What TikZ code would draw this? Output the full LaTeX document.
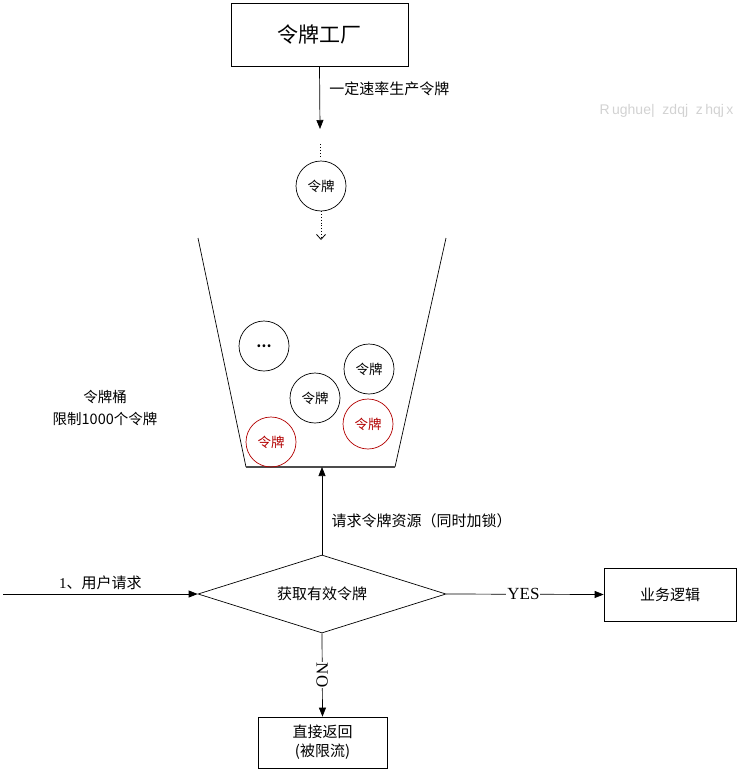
\documentclass[tikz,border=0pt]{standalone}
\usepackage{fontspec}
\setmainfont{Liberation Serif}
\newfontfamily\cjk{Noto Sans CJK SC}
\usetikzlibrary{shapes.geometric,arrows.meta,positioning}

\begin{document}
\begin{tikzpicture}[x=1pt,y=-1pt,line width=0.7pt,
    cjktext/.style={font=\cjk\fontsize{15}{19}\selectfont},
    tokenball/.style={circle,draw,minimum size=50pt,inner sep=0pt,font=\cjk\fontsize{13.5}{16}\selectfont},
    hotball/.style={tokenball,draw=red!70!black,text=red!70!black},
    flowbox/.style={rectangle,draw,inner sep=0pt,cjktext},
    arr/.style={-{Triangle[length=9pt,width=7pt]}}]
    \useasboundingbox (0,0) rectangle (742,771);

    % Token factory
    \node[flowbox,minimum width=177pt,minimum height=63pt,font=\cjk\fontsize{21}{24}\selectfont] (factory) at (319.5,34.5) {令牌工厂};
    \coordinate (prodend) at (320,129);
    \draw[arr] (factory.south) -- (prodend) node[cjktext,right,pos=0.36,xshift=6pt] {一定速率生产令牌};

    % Falling token
    \coordinate (dotstop) at (320,144);
    \coordinate (dotsbot) at (320,158);
    \draw[dotted,line width=1pt] (dotstop) -- (dotsbot);
    \node[tokenball] (falling) at (321,186) {令牌};
    \coordinate (dropend) at (321,240);
    \draw[dotted,line width=0.8pt,-{Straight Barb[length=5pt,width=9pt]}] (falling.south) -- (dropend);

    % Watermark
    \node[anchor=west,text=gray!35,font=\fontspec{Liberation Sans}\fontsize{14}{16}\selectfont] (mark) at (596,111) {R\,ughue|\ \ zdqj\ \ z\,hqj\,x};

    % Token bucket
    \coordinate (bucketlt) at (198,238);
    \coordinate (bucketrt) at (446,238);
    \coordinate (bucketlb) at (246,467);
    \coordinate (bucketrb) at (395,467);
    \draw (bucketlt) -- (bucketlb);
    \draw (bucketrt) -- (bucketrb);
    \draw[line width=1.3pt,gray!60!black] (bucketlb) -- (bucketrb);
    \node[cjktext,align=center,font=\cjk\fontsize{14.5}{22}\selectfont] (bucketlabel) at (105,408) {令牌桶\\限制1000个令牌};

    % Tokens in the bucket
    \node[tokenball] (more) at (264,346) {\textbf{\ldots}};
    \node[tokenball] (tokena) at (315,398) {令牌};
    \node[tokenball] (tokenb) at (369,369) {令牌};
    \node[hotball] (hota) at (271,442) {令牌};
    \node[hotball] (hotb) at (368,424) {令牌};

    % Decision
    \node[diamond,draw,aspect=3.2,minimum width=248pt,minimum height=78pt,inner sep=0pt,cjktext] (check) at (322,594) {获取有效令牌};
    \coordinate (bucketin) at (322,467);
    \draw[arr] (check.north) -- (bucketin) node[cjktext,right,midway,xshift=6pt,yshift=-10pt] {请求令牌资源（同时加锁）};

    % User request
    \coordinate (userstart) at (3,594);
    \draw[arr] (userstart) -- (check.west) node[above,midway,yshift=1pt,font=\fontsize{15}{18}\selectfont] {1{\cjk 、用户请求}};

    % Business logic
    \node[flowbox,minimum width=132pt,minimum height=53pt] (business) at (670,594.5) {业务逻辑};
    \draw[arr] (check.east) -- (business.west) node[pos=0.49,fill=white,inner sep=1pt,font=\fontsize{17}{19}\selectfont] {YES};

    % Rejected
    \node[flowbox,minimum width=129pt,minimum height=51pt,align=center] (reject) at (322.5,742.5) {直接返回\\(被限流)};
    \draw[arr] (check.south) -- (reject.north) node[pos=0.5,rotate=-90,fill=white,inner sep=1pt,font=\fontsize{17}{19}\selectfont] {NO};
\end{tikzpicture}
\end{document}
